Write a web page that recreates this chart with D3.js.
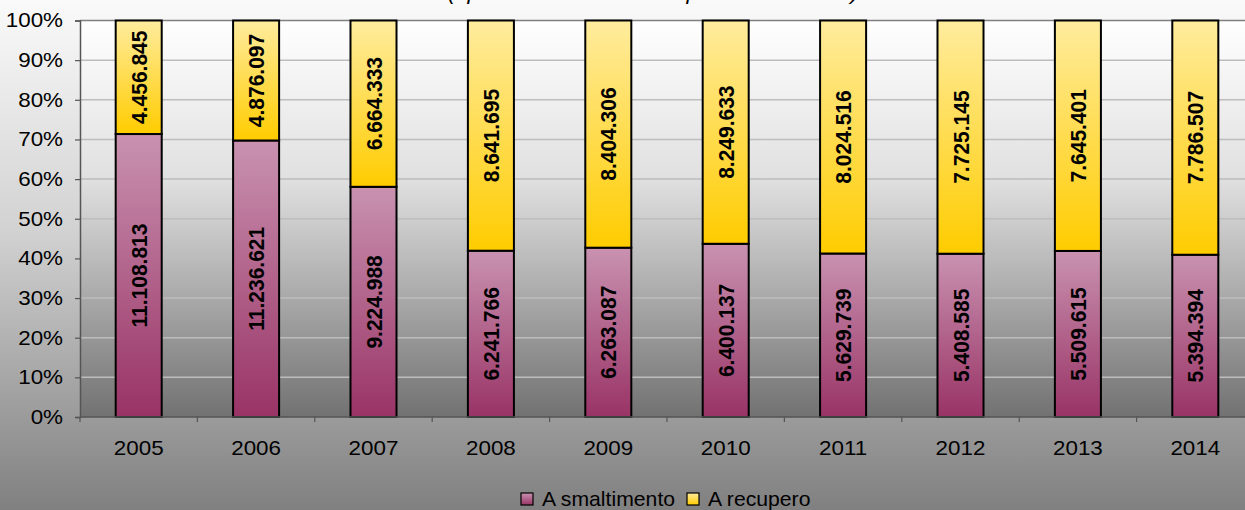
<!DOCTYPE html>
<html>
<head>
<meta charset="utf-8">
<script src="https://cdn.jsdelivr.net/npm/d3@7"></script>
<style>
  body { margin: 0; background: #fff; }
  text { font-family: 'Liberation Sans', Arial, sans-serif; fill: #000; }
</style>
</head>
<body>
<div id="chart"></div>
<script>
// data
const years = ['2005', '2006', '2007', '2008', '2009', '2010', '2011', '2012', '2013', '2014']
const smaltimento = [11108813, 11236621, 9224988, 6241766, 6263087, 6400137, 5629739, 5408585, 5509615, 5394394]
const recupero = [4456845, 4876097, 6664333, 8641695, 8404306, 8249633, 8024516, 7725145, 7645401, 7786507]
const seriesNames = ['A smaltimento', 'A recupero']
const yTicks = [0, 0.1, 0.2, 0.3, 0.4, 0.5, 0.6, 0.7, 0.8, 0.9, 1]
const titleText = '(ripartizione % dei rifiuti per destinazione)'

const W = 1245
const H = 510
const margin = { top: 20.5, left: 80, bottom: 93 }
const plotW = 1174  // runs past the right edge, as in the original
const plotH = H - margin.top - margin.bottom
const sx = 1.12     // the original text is a bit stretched sideways

const it = d3.formatLocale({ decimal: ',', thousands: '.', grouping: [3], currency: ['', ''] })
const fmt = it.format(',d')

const svg = d3.select('#chart').append('svg')
  .attr('width', W)
  .attr('height', H)

const defs = svg.append('defs')
function vGrad (id, stops) {
  let g = defs.append('linearGradient').attr('id', id)
    .attr('x1', 0).attr('y1', 0).attr('x2', 0).attr('y2', 1)
  stops.forEach(s => g.append('stop').attr('offset', s[0]).attr('stop-color', s[1]))
}
vGrad('bg', [[0, '#fafafa'], [0.45, '#d2d2d2'], [1, '#808080']])
vGrad('plotbg', [[0, '#ffffff'], [0.4, '#e0e0e0'], [1, '#727272']])
vGrad('gSmalt', [[0, '#c992b0'], [1, '#993366']])
vGrad('gRecup', [[0, '#ffec9e'], [1, '#ffcc00']])

// chart background
svg.append('rect').attr('width', W).attr('height', H).attr('fill', 'url(#bg)')

// title (cut off at the top, as in the original)
svg.append('text')
  .attr('transform', `translate(653,0) scale(${sx},1)`)
  .attr('text-anchor', 'middle')
  .style('font-size', '20px')
  .style('font-style', 'italic')
  .text(titleText)

const g = svg.append('g').attr('transform', `translate(${margin.left},${margin.top})`)

const xs = d3.scaleBand().domain(years).range([0, plotW])
  .paddingInner(0.608).paddingOuter(0.304)
const ys = d3.scaleLinear().domain([0, 1]).range([plotH, 0])

// plot area
g.append('rect').attr('width', plotW).attr('height', plotH).attr('fill', 'url(#plotbg)')

// gridlines
g.append('g').selectAll('line')
  .data(yTicks.filter(d => d > 0 && d < 1))
  .join('line')
  .attr('x1', 0).attr('x2', plotW)
  .attr('y1', d => ys(d)).attr('y2', d => ys(d))
  .attr('stroke', '#bdbdbd').attr('stroke-width', 1.5)
g.append('line')
  .attr('x1', 0).attr('x2', plotW)
  .attr('y1', ys(1)).attr('y2', ys(1))
  .attr('stroke', '#808080').attr('stroke-width', 1.5)

// stacked percentages
const rows = years.map((y, i) => {
  let tot = smaltimento[i] + recupero[i]
  return { year: y, s: smaltimento[i], r: recupero[i], ps: smaltimento[i] / tot }
})

const segs = []
rows.forEach(d => {
  segs.push({ year: d.year, y0: 0, y1: d.ps, v: d.s, fill: 'url(#gSmalt)' })
  segs.push({ year: d.year, y0: d.ps, y1: 1, v: d.r, fill: 'url(#gRecup)' })
})

g.append('g').selectAll('rect')
  .data(segs)
  .join('rect')
  .attr('x', d => xs(d.year))
  .attr('width', xs.bandwidth())
  .attr('y', d => ys(d.y1))
  .attr('height', d => ys(d.y0) - ys(d.y1))
  .attr('fill', d => d.fill)
  .attr('stroke', '#000')
  .attr('stroke-width', 2)

// value labels, rotated
g.append('g').selectAll('text')
  .data(segs)
  .join('text')
  .attr('transform', d => {
    let cx = xs(d.year) + xs.bandwidth() / 2
    let cy = (ys(d.y0) + ys(d.y1)) / 2
    return `translate(${cx},${cy}) scale(1.06,1) rotate(-90)`
  })
  .attr('text-anchor', 'middle')
  .attr('dy', '0.36em')
  .style('font-size', '21px')
  .style('font-weight', 'bold')
  .text(d => fmt(d.v))

// y axis
const yAxis = g.append('g')
  .call(d3.axisLeft(ys).tickValues(yTicks).tickFormat(d3.format('.0%')).tickSize(5).tickPadding(12))
yAxis.select('.domain').attr('stroke', '#555').attr('stroke-width', 1.5)
yAxis.selectAll('.tick line').attr('stroke', '#555').attr('stroke-width', 1.2)
yAxis.selectAll('.tick text')
  .attr('x', -17 / sx)
  .attr('transform', `scale(${sx},1)`)
  .style('font-size', '20px')
  .style('font-family', "'Liberation Sans', Arial, sans-serif")
  .attr('fill', '#000')

// x axis, ticks at category boundaries
const xAxis = g.append('g').attr('transform', `translate(0,${plotH})`)
xAxis.append('line')
  .attr('x1', 0).attr('x2', plotW)
  .attr('stroke', '#555').attr('stroke-width', 1.5)
xAxis.selectAll('line.tk')
  .data(d3.range(years.length + 1))
  .join('line')
  .attr('class', 'tk')
  .attr('x1', i => i * xs.step()).attr('x2', i => i * xs.step())
  .attr('y1', 0).attr('y2', 5)
  .attr('stroke', '#555').attr('stroke-width', 1.2)
xAxis.selectAll('text')
  .data(years)
  .join('text')
  .attr('transform', d => `translate(${xs(d) + xs.bandwidth() / 2},38) scale(${sx},1)`)
  .attr('text-anchor', 'middle')
  .style('font-size', '20px')
  .text(d => d)

// legend
const legend = svg.append('g').attr('transform', 'translate(521,506)')
const fills = ['url(#gSmalt)', 'url(#gRecup)']
const legX = [0, 166]
seriesNames.forEach((name, i) => {
  let lg = legend.append('g').attr('transform', `translate(${legX[i]},0)`)
  lg.append('rect')
    .attr('x', 0).attr('y', -13)
    .attr('width', 12).attr('height', 12)
    .attr('fill', fills[i]).attr('stroke', '#000').attr('stroke-width', 1.2)
  lg.append('text')
    .attr('transform', 'translate(21,0) scale(1.06,1)')
    .style('font-size', '20px')
    .text(name)
})
</script>
</body>
</html>
